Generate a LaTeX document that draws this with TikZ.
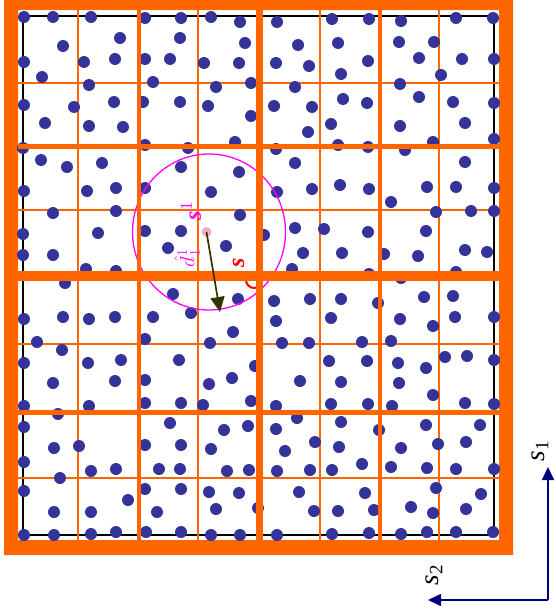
\documentclass[tikz,border=0pt]{standalone}
\usepackage{fontspec}
\setmainfont{Liberation Serif}
\usepackage{tikz}
\usetikzlibrary{arrows.meta, calc}
\definecolor{GridOrange}{HTML}{FF6600}
\definecolor{DotBlue}{HTML}{333399}
\definecolor{SensorPink}{RGB}{245,170,200}
\definecolor{RangeMagenta}{RGB}{255,0,255}
\definecolor{TargetRed}{RGB}{255,0,0}
\definecolor{AxisNavy}{RGB}{0,0,120}
\definecolor{ArrowOlive}{RGB}{51,51,0}

\begin{document}
\begin{tikzpicture}[x=1pt, y=-1pt,
  thinline/.style={GridOrange, line width=2pt},
  midvline/.style={GridOrange, line width=4pt},
  midhline/.style={GridOrange, line width=5pt},
  axis/.style={AxisNavy, line width=1.6pt, -{Triangle[length=13pt, width=12pt]}},
  axislabel/.style={rotate=90, inner sep=0pt, font=\fontsize{27}{30}\selectfont}]
\useasboundingbox (0,0) rectangle (555,613);
% --- frame and cells ---
\fill[GridOrange, even odd rule] (4,0) rectangle (513,555) (18,10) rectangle (499,540);
\draw[line width=2pt] (23,16) rectangle (494,535);
\foreach \gx in {78,198,320,439} \draw[thinline] (\gx,10) -- (\gx,540);
\foreach \gy in {83,210,343.5,477.5} \draw[thinline] (18,\gy) -- (499,\gy);
\draw[TargetRed, line width=2pt] (254,280) circle[radius=8];
% --- samples ---
\foreach \px/\py in {24/17,53/17,91/17,145/18,181/18,120/38,63/46,180/38,
  24/62,84/62,115/59,145/59,170/59,42/77,89/85,153/82,
  24/105,74/107,114/102,143/102,180/102,45/123,89/126,123/127,
  23/148,145/145,41/160,67/167,102/163,181/167,
  24/191,87/191,116/188,145/188,53/213,116/211,
  23/234,98/233,145/231,181/231,168/248,23/255,53/255,86/269,116/271,
  211/17,240/22,277/22,332/19,245/43,298/45,338/43,
  204/63,239/63,276/63,309/66,341/74,251/83,216/87,295/87,
  208/106,274/106,312/107,343/99,251/116,331/124,308/132,
  188/148,235/142,276/149,338/145,239/172,295/163,
  211/192,277/192,312/189,340/185,240/215,
  264/235,295/228,324/229,226/246,303/253,342/253,292/269,
  369/19,401/21,456/18,493/18,399/42,434/42,
  368/61,419/58,462/59,494/59,441/75,400/84,
  367/103,419/97,453/102,494/103,400/126,465/123,
  368/147,405/150,433/142,494/139,465/162,
  369/189,427/187,456/187,494/188,391/202,436/212,471/211,494/211,
  368/232,426/231,384/254,418/256,465/250,487/252,369/274,456/272,
  65/283,173/294,24/319,63/317,89/319,115/317,153/317,
  37/342,145/339,24/363,62/350,88/363,121/360,179/360,
  53/383,115/381,145/380,24/406,89/406,145/403,181/403,58/414,
  24/427,170/423,54/448,79/446,145/445,181/445,24/462,
  91/471,116/469,159/469,180/469,60/478,24/491,145/489,181/489,128/500,
  54/512,91/512,157/512,24/535,54/535,91/534,116/532,146/532,181/532,
  191/313,238/299,233/332,210/343,274/301,310/299,341/299,
  276/321,331/318,282/343,309/343,
  255/366,232/378,209/384,300/381,329/361,341/382,
  203/405,251/401,276/406,331/404,
  224/430,248/426,276/429,297/418,341/422,
  211/449,285/451,315/442,339/447,
  227/471,249/470,277/471,310/470,332/470,209/492,239/493,299/492,
  216/509,258/508,314/511,338/511,211/535,240/535,277/535,332/534,
  401/278,378/303,424/297,453/296,400/319,433/326,455/317,494/317,
  362/342,391/341,367/361,398/363,426/368,445/357,467/356,494/360,
  399/383,433/395,368/404,392/406,465/403,494/404,
  379/430,426/425,480/425,401/448,438/444,466/442,
  362/464,391/467,427/468,456/469,494/469,436/488,365/493,481/494,
  374/510,411/507,433/513,466/509,369/533,401/534,427/532,456/532,493/532}
  \fill[DotBlue] (\px,\py) circle[radius=6];
\draw[RangeMagenta, line width=1.3pt] (209,232) ellipse[x radius=76.5, y radius=78];
% --- block borders ---
\foreach \gx in {138.7,380.3} \draw[midvline] (\gx,10) -- (\gx,540);
\foreach \gy in {146.7,412.7} \draw[midhline] (18,\gy) -- (499,\gy);
\draw[GridOrange, line width=6.5pt] (259.5,10) -- (259.5,540);
\draw[GridOrange, line width=10pt] (18,276) -- (499,276);
% --- sensor and range ---
\node[RangeMagenta, rotate=90, inner sep=0pt, font=\fontsize{24}{28}\selectfont] (lblsensor) at (191,211)
  {\textbf{\textit{s}}\textsuperscript{1}};
\node[RangeMagenta, rotate=90, inner sep=0pt, font=\fontsize{22}{26}\selectfont] (lbldist) at (187,258)
  {$\hat{d}^{1}_{1}$};
\node[TargetRed, rotate=90, inner sep=0pt, font=\fontsize{24}{28}\selectfont] (lbltarget) at (238.5,263)
  {\textbf{\textit{s}}};
\node[circle, fill=SensorPink, inner sep=0pt, minimum size=10pt] (sensor) at (206.5,232) {};
\coordinate (reach) at (220,312);
\draw[ArrowOlive, line width=1.7pt, -{Triangle[length=15pt, width=14pt]}] (sensor.center) -- (reach);
% --- axes ---
\coordinate (origin) at (548,600);
\coordinate (s1tip) at (548,467);
\coordinate (s2tip) at (428,600);
\draw[axis] (origin) -- (s1tip);
\draw[axis] (origin) -- (s2tip);
\node[axislabel] (lbls1) at (540,451) {\textit{s}\textsubscript{1}};
\node[axislabel] (lbls2) at (434,575) {\textit{s}\textsubscript{2}};
\end{tikzpicture}
\end{document}
